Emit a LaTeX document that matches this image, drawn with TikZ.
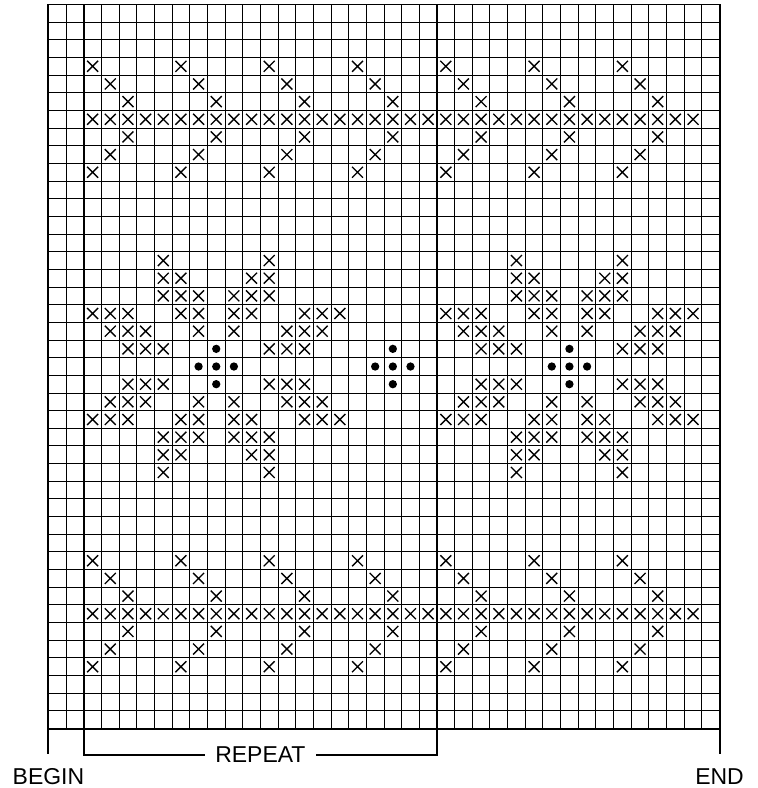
\documentclass[tikz,border=0pt]{standalone}
\usepackage{fontspec}
\setmainfont{Liberation Sans}
\usetikzlibrary{calc}

\begin{document}
\begin{tikzpicture}[x=0.5cm, y=0.5cm,
    gridline/.style={line width=0.8pt},
    frameline/.style={line width=1.6pt},
    markline/.style={line width=1.1pt},
    chartlabel/.style={font=\fontsize{18.5}{22}\selectfont, inner sep=0pt},
    stitch/.pic={\draw[markline] (-0.31,-0.31) -- (0.31,0.31) (-0.31,0.31) -- (0.31,-0.31);},
    bobble/.pic={\fill (0,0) circle (0.235);}]
    \useasboundingbox (-2.745,-3.367) rectangle (40.15,41.255);
    % The chart grid
    \draw[gridline, step=1] (0,0) grid (38,41);
    \draw[frameline] (0,0) rectangle (38,41);
    % Border bands (top and bottom)
    \foreach \bandrow in {3,31} {
        \foreach \k in {0,...,6} {
            \pic at ({2.5+5*\k}, {40.5-\bandrow}) {stitch};
            \pic at ({2.5+5*\k}, {34.5-\bandrow}) {stitch};
            \pic at ({3.5+5*\k}, {39.5-\bandrow}) {stitch};
            \pic at ({3.5+5*\k}, {35.5-\bandrow}) {stitch};
            \pic at ({4.5+5*\k}, {38.5-\bandrow}) {stitch};
            \pic at ({4.5+5*\k}, {36.5-\bandrow}) {stitch};
        }
        \foreach \c in {2,...,36}
            \pic at ({\c+0.5}, {37.5-\bandrow}) {stitch};
    }
    % Star motifs
    \foreach \cx in {9.5, 29.5} {
        \foreach \dr/\dcs in {6/{3}, 5/{2,3}, 4/{1,2,3}, 3/{1,2,5,6,7}, 2/{1,4,5,6}, 1/{3,4,5}}
            \foreach \dc in \dcs
                \foreach \sx in {-1,1}
                    \foreach \sy in {-1,1}
                        \pic at ({\cx+\sx*\dc}, {20.5+\sy*\dr}) {stitch};
    }
    % Bobbles
    \foreach \cx in {9.5, 19.5, 29.5}
        \foreach \dx/\dy in {0/0, -1/0, 1/0, 0/1, 0/-1}
            \pic at ({\cx+\dx}, {20.5+\dy}) {bobble};
    % Repeat bracket
    \coordinate (rep-left) at (2,41);
    \coordinate (rep-right) at (22,41);
    \node[chartlabel, inner xsep=8pt] (repeat) at (12,-1.5) {REPEAT};
    \draw[frameline] (rep-left) |- (repeat.west);
    \draw[frameline] (rep-right) |- (repeat.east);
    % Begin and end marks
    \coordinate (begin-top) at (0,0);
    \coordinate (begin-foot) at (0,-1.42);
    \coordinate (end-top) at (38,0);
    \coordinate (end-foot) at (38,-1.42);
    \node[chartlabel] (begin) at (0,-2.72) {BEGIN};
    \node[chartlabel] (end) at (38,-2.72) {END};
    \draw[frameline] (begin-top) -- (begin-foot);
    \draw[frameline] (end-top) -- (end-foot);
\end{tikzpicture}
\end{document}
